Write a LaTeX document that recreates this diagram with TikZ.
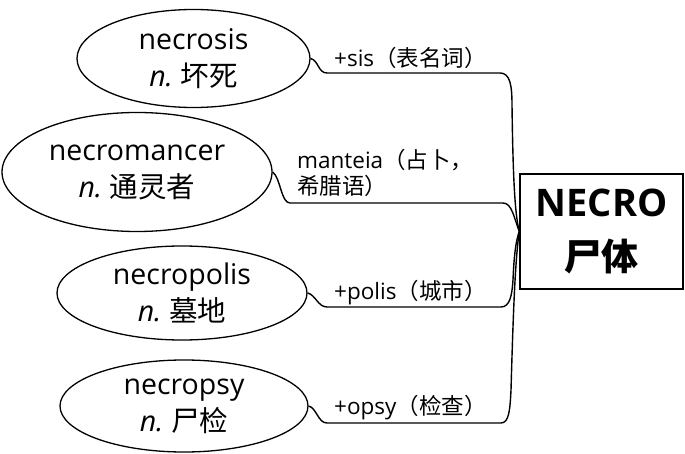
\documentclass[tikz,border=0pt]{standalone}
\usepackage{fontspec}
\setmainfont{Open Sans}
\newfontfamily\cjk{Noto Sans CJK SC}
\newfontfamily\cjkb{Noto Sans CJK SC Bold}
\usetikzlibrary{shapes.geometric}
\tikzset{
  word/.style={ellipse, draw, line width=1.3pt, inner sep=0pt, align=center,
    font=\fontsize{28.5}{37}\selectfont},
  conn/.style={line width=1.4pt},
  lab/.style={anchor=west, inner sep=0pt, align=left, font=\fontsize{22.5}{26}\selectfont},
  rootbox/.style={rectangle, draw, line width=1.4pt, minimum width=163pt, minimum height=115pt, align=center, inner sep=0pt,
    font=\fontsize{38}{54}\selectfont\bfseries}
}
\begin{document}
\begin{tikzpicture}[x=1pt,y=-1pt]
\useasboundingbox (0,0) rectangle (685,454);
\node[word, minimum width=233pt, minimum height=98pt] (e1) at (193.5,58.5) {necrosis\\\textit{n.}\;{\cjk 坏死}};
\node[word, minimum width=270pt, minimum height=119pt] (e2) at (137,172) {necromancer\\\textit{n.}\;{\cjk 通灵者}};
\node[word, minimum width=250pt, minimum height=94pt] (e3) at (182,293) {necropolis\\\textit{n.}\;{\cjk 墓地}};
\node[word, minimum width=248pt, minimum height=92pt] (e4) at (184,406) {necropsy\\\textit{n.}\;{\cjk 尸检}};
\node[rootbox] (box) at (601.5,231.5) {NECRO\\{\fontsize{37}{54}\selectfont\cjkb 尸体}};
\node[lab] (l1) at (334,58) {+sis{\cjk（表名词）}};
\node[lab] (l2) at (297,173) {manteia{\cjk（占卜，}\\{\cjk 希腊语）}};
\node[lab] (l3) at (334,293) {+polis{\cjk（城市）}};
\node[lab] (l4) at (334,408) {+opsy{\cjk（检查）}};
\draw[conn] (e1.east) .. controls +(8,2) and (318,73) .. (327,73) -- (500,73)
  .. controls (510,73) and (512,85) .. (512,105) .. controls (513,180) and (515,215) .. (box.west);
\draw[conn] (e2.east) .. controls +(8,6) and (281,203) .. (290,203) -- (503,203)
  .. controls (512,203) and (514,218) .. (box.west);
\draw[conn] (e3.east) .. controls +(8,2) and (318,307) .. (327,307) -- (501,307)
  .. controls (510,307) and (512,295) .. (513,280) .. controls (514,255) and (516,240) .. (box.west);
\draw[conn] (e4.east) .. controls +(8,2) and (318,423) .. (327,423) -- (501,423)
  .. controls (509,423) and (510,410) .. (511,390) .. controls (513,320) and (515,260) .. (box.west);
\end{tikzpicture}
\end{document}
